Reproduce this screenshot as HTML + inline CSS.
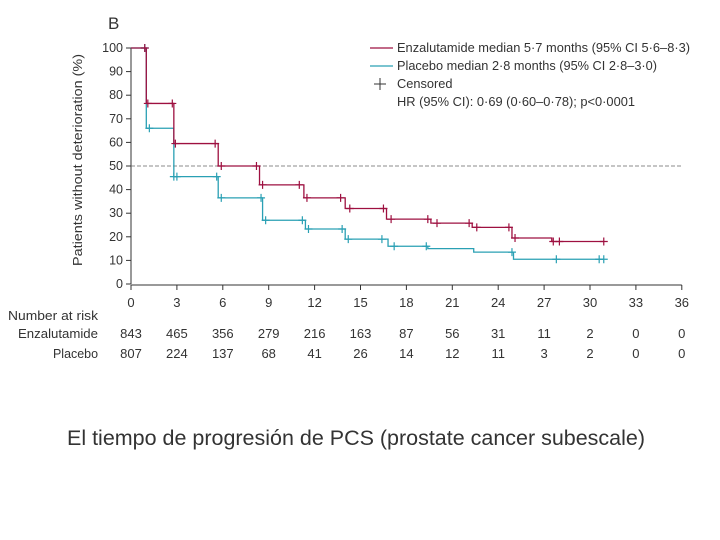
<!DOCTYPE html>
<html><head><meta charset="utf-8"><style>
body{margin:0;background:#fff;width:720px;height:540px;overflow:hidden}
svg{display:block}
text{font-family:"Liberation Sans",sans-serif;fill:#333}
</style></head><body>
<svg id="chart" width="720" height="540" viewBox="0 0 720 540">
<text x="108" y="29" font-size="17" fill="#777">B</text>
<g id="axes"></g>
<g id="series"></g>
<g font-size="12.8">
<line x1="370" y1="48" x2="393" y2="48" stroke="#9e1040" stroke-width="1.2"/>
<text x="397" y="52" textLength="293" lengthAdjust="spacingAndGlyphs">Enzalutamide median 5·7 months (95% CI 5·6–8·3)</text>
<line x1="370" y1="66" x2="393" y2="66" stroke="#2aa0b4" stroke-width="1.2"/>
<text x="397" y="70" textLength="260" lengthAdjust="spacingAndGlyphs">Placebo median 2·8 months (95% CI 2·8–3·0)</text>
<path d="M374 84H386M380 78V90" stroke="#333" stroke-width="1"/>
<text x="397" y="88">Censored</text>
<text x="397" y="106" textLength="238" lengthAdjust="spacingAndGlyphs">HR (95% CI): 0·69 (0·60–0·78); p&lt;0·0001</text>
</g>
<text transform="translate(82,160) rotate(-90)" text-anchor="middle" font-size="13" textLength="212" lengthAdjust="spacingAndGlyphs">Patients without deterioration (%)</text>
<g id="risk" font-size="13"></g>
<text x="356" y="445" text-anchor="middle" font-size="21" fill="#000" textLength="578" lengthAdjust="spacingAndGlyphs">El tiempo de progresión de PCS (prostate cancer subescale)</text>
</svg>
<script>
const xTicks=[0,3,6,9,12,15,18,21,24,27,30,33,36];
const yTicks=[0,10,20,30,40,50,60,70,80,90,100];
const enzT=[0,1.0,2.8,5.7,8.4,11.3,14,16.7,19.6,22.3,24.9,27.5];
const enzV=[100,76.5,59.5,50,42,36.5,32,27.5,25.8,24,19.5,18];
const plaT=[0,1.0,2.8,5.7,8.6,11.4,14,16.8,19.4,22.4,25];
const plaV=[100,66,45.5,36.5,27,23.3,19,16,15,13.5,10.5];
const endT=30.9;
const enzCens=[0.9,1.1,2.7,2.9,5.5,5.9,8.2,8.6,11,11.5,13.7,14.3,16.5,17,19.4,20,22.1,22.6,24.7,25.1,27.6,28,30.9];
const plaCens=[0.9,1.2,2.8,3.0,5.6,5.9,8.5,8.8,11.2,11.6,13.8,14.2,16.4,17.2,19.3,24.9,27.8,30.6,30.9];
const riskEnz=[843,465,356,279,216,163,87,56,31,11,2,0,0];
const riskPla=[807,224,137,68,41,26,14,12,11,3,2,0,0];
const X=t=>131+t*15.3, Y=v=>284-v*2.36;
const NS="http://www.w3.org/2000/svg";
function mk(tag,attrs,parent,txt){const e=document.createElementNS(NS,tag);for(const k in attrs)e.setAttribute(k,attrs[k]);if(txt!==undefined)e.textContent=txt;parent.appendChild(e);return e;}
const axes=document.getElementById('axes');
const ya=mk('line',{x1:X(0),y1:Y(0),x2:X(0),y2:Y(100),stroke:'#333'},axes);


const xa=mk('line',{x1:X(0),y1:285,x2:X(36),y2:285,stroke:'#333'},axes);


yTicks.forEach(v=>{mk('line',{x1:X(0)-5,y1:Y(v),x2:X(0),y2:Y(v),stroke:'#333'},axes);
 const t=mk('text',{x:X(0)-8,y:Y(v)+4,'text-anchor':'end','font-size':12.5},axes,v);
 
 });
xTicks.forEach(v=>{mk('line',{x1:X(v),y1:285,x2:X(v),y2:290,stroke:'#333'},axes);
 const t=mk('text',{x:X(v),y:307,'text-anchor':'middle','font-size':13},axes,v);
 
 });
const ref=mk('line',{x1:X(0),y1:Y(50),x2:X(36),y2:Y(50),stroke:'#666','stroke-dasharray':'4,2','stroke-width':0.8},axes);


const ser=document.getElementById('series');
function stepVal(T,V,t){let v=V[0];for(let i=0;i<T.length;i++)if(T[i]<=t)v=V[i];return v;}
function draw(T,V,cens,color,name){
 let d='M'+X(0)+' '+Y(V[0]);
 for(let i=1;i<T.length;i++){d+='H'+X(T[i])+'V'+Y(V[i]);}
 d+='H'+X(endT);
 const p=mk('path',{d:d,fill:'none',stroke:color,'stroke-width':1.3},ser);
 
 
 cens.forEach(t=>{const x=X(t),y=Y(stepVal(T,V,t));
  const c=mk('path',{d:`M${x-4} ${y}H${x+4}M${x} ${y-4}V${y+4}`,stroke:color,'stroke-width':1.2},ser);
  
  });
}
draw(plaT,plaV,plaCens,'#2aa0b4','placebo');
draw(enzT,enzV,enzCens,'#9e1040','enzalutamide');
const risk=document.getElementById('risk');
[['Number at risk',320,90],['Enzalutamide',338,80],['Placebo',358,45]].forEach(([s,y,w])=>{
 const t=mk('text',{x:98,y:y,'text-anchor':'end',textLength:w,lengthAdjust:'spacingAndGlyphs'},risk,s);
 
 });
xTicks.forEach((v,i)=>{
 const a=mk('text',{x:X(v),y:338,'text-anchor':'middle'},risk,riskEnz[i]);
 
 
 const b=mk('text',{x:X(v),y:358,'text-anchor':'middle'},risk,riskPla[i]);
 
 });
</script>
</body></html>
